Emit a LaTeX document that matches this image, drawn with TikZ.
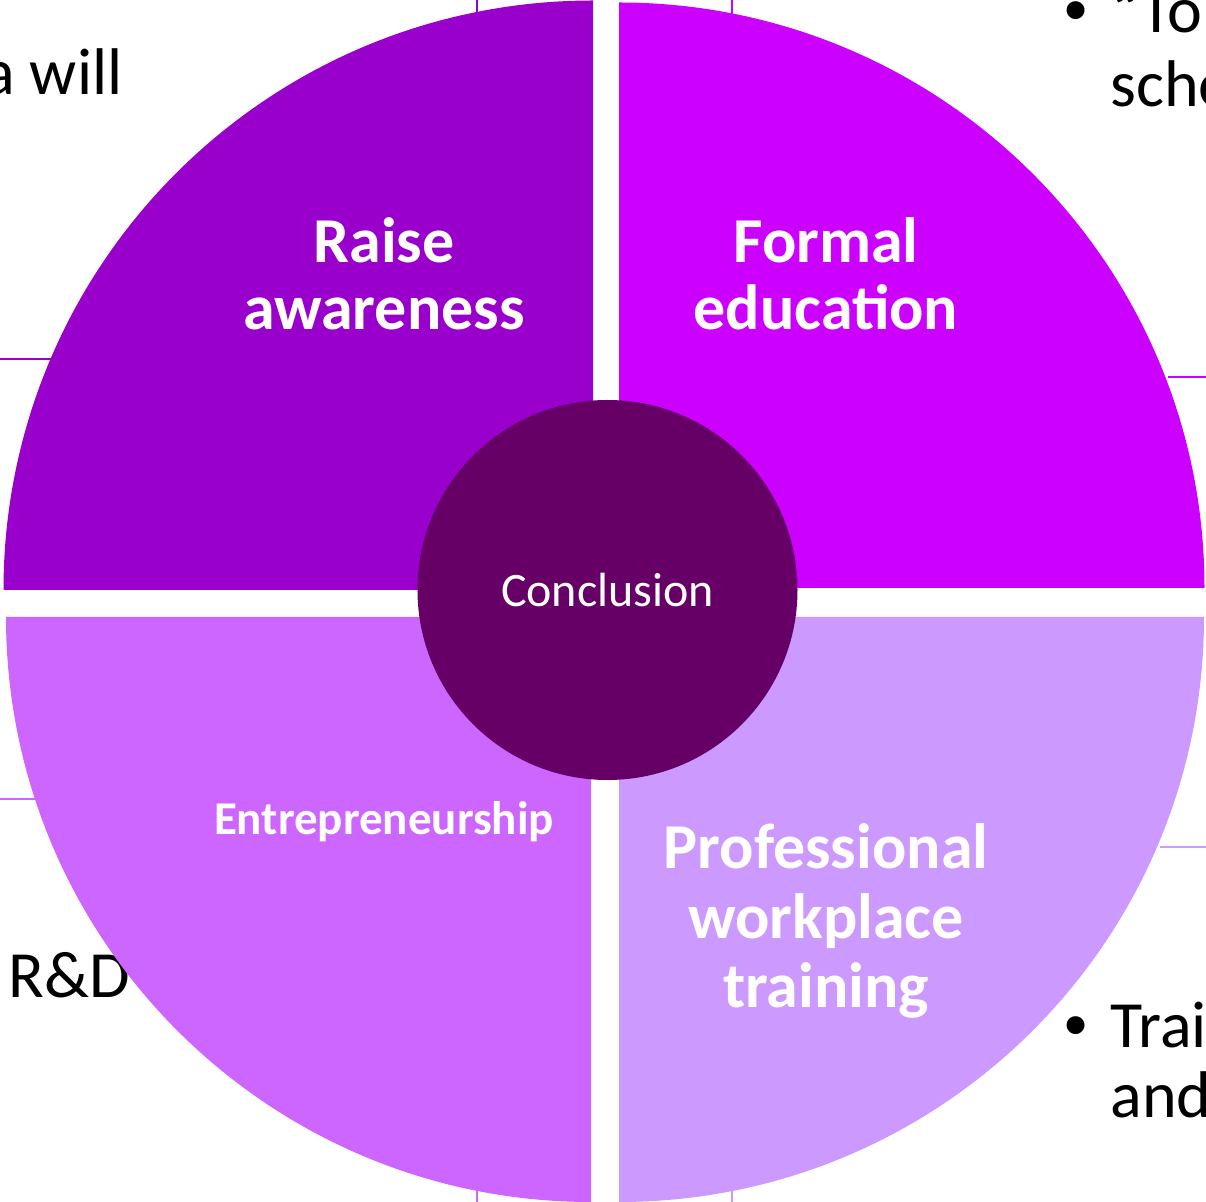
\documentclass[tikz,border=0pt]{standalone}
\usepackage{fontspec}
\setmainfont{Carlito}
\newfontfamily\bulletfont{Liberation Sans}
\usetikzlibrary{positioning}
\definecolor{raisecol}{HTML}{9900CC}
\definecolor{formalcol}{HTML}{CC00FF}
\definecolor{entrecol}{HTML}{CC66FF}
\definecolor{profcol}{HTML}{CC99FF}
\definecolor{conclcol}{HTML}{660066}

\begin{document}
\begin{tikzpicture}[
		x=0.5pt, y=-0.5pt,
		big/.style = {text=white, font=\bfseries\fontsize{32}{33.5}\selectfont, align=center, inner sep=0pt, anchor=base},
		body/.style = {font=\fontsize{33}{37}\selectfont, inner sep=0pt, align=left, anchor=base west},
		rim/.style = {line width=1pt}
	]
	\useasboundingbox (0,0) rectangle (1206,1202);
	\clip (0,0) rectangle (1206,1202);
	% Lines behind.
	\draw[rim, raisecol] (0,359) -- (200,359);
	\draw[rim, raisecol] (477,0) -- (477,100);
	\draw[rim, formalcol] (1168,377) -- (1206,377);
	\draw[rim, formalcol] (732,0) -- (732,100);
	\draw[rim, entrecol] (0,799) -- (150,799);
	\draw[rim, entrecol] (477,1100) -- (477,1202);
	\draw[rim, profcol] (1160,847) -- (1206,847);
	\draw[rim, profcol] (732,1100) -- (732,1202);
	% Text behind.
	\node[body, anchor=base east] (will) at (123,95) {a will};
	\node[body] (to) at (1064,107) {\makebox[23pt][l]{\bulletfont •}“To\\\hspace*{23pt}scho};
	\node[body] (rd) at (8,998) {R\&D};
	\node[body, font=\fontsize{33}{35.5}\selectfont] (trai) at (1064,1118) {\makebox[23pt][l]{\bulletfont •}Trai\\\hspace*{23pt}and};
	% Quadrants.
	\fill[raisecol] (593,590) -- ++(-589.5,0) arc[start angle=180, end angle=270, radius=589.5] -- cycle;
	\fill[formalcol] (619,588) -- ++(0,-585.5) arc[start angle=270, end angle=360, radius=585.5] -- cycle;
	\fill[entrecol] (591,617) -- ++(-585,0) arc[start angle=180, end angle=90, radius=585] -- cycle;
	\fill[profcol] (619,617) -- ++(585,0) arc[start angle=0, end angle=90, radius=585] -- cycle;
	% Centre.
	\node[circle, fill=conclcol, minimum size=190pt, inner sep=0pt, text=white, font=\fontsize{24}{28}\selectfont] (concl) at (607.5,590) {Conclusion};
	% Labels.
	\node[big] (raise) at (384,330) {Raise\\awareness};
	\node[big] (formal) at (826,330) {Formal\\education};
	\node[big, font=\bfseries\fontsize{23.5}{26}\selectfont] (entre) at (384,835) {Entrepreneurship};
	\node[big, font=\bfseries\fontsize{32}{35}\selectfont] (prof) at (826,1008) {Professional\\workplace\\training};
\end{tikzpicture}
\end{document}
